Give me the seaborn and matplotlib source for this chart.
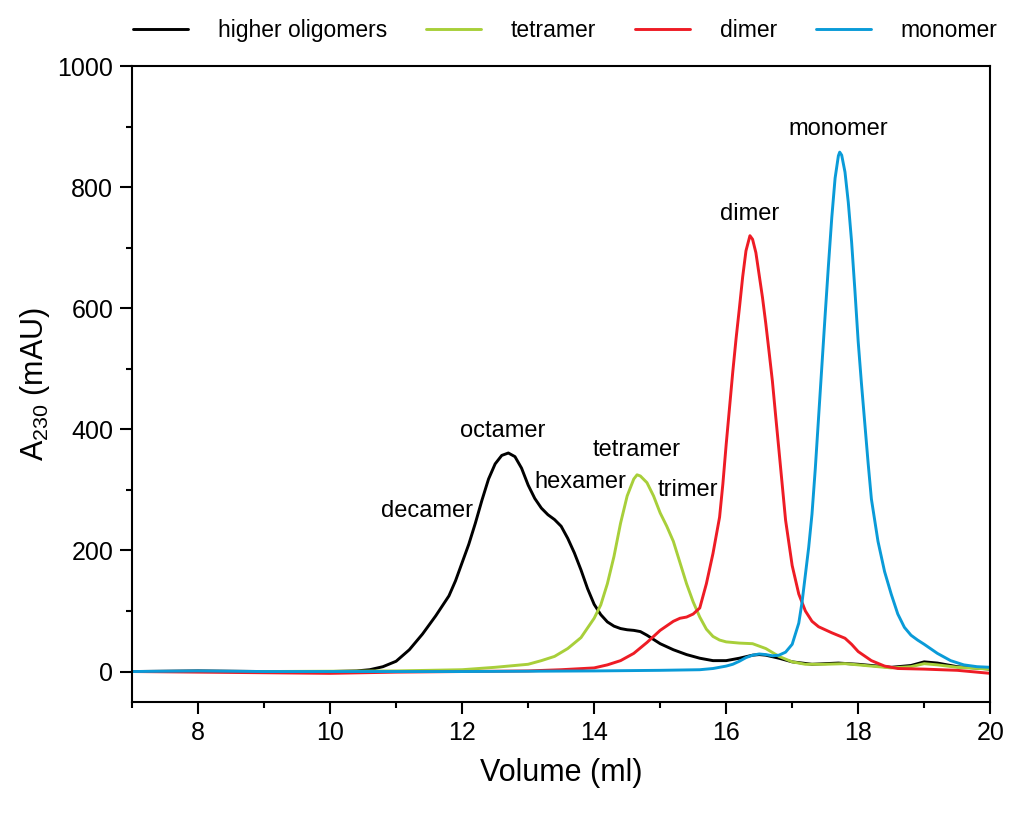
import numpy as np
import pandas as pd
import seaborn as sns
import matplotlib.pyplot as plt
from matplotlib.ticker import MultipleLocator

# Elution profiles (volume in ml, A230 in mAU)
oligo_x = [7.0, 8.0, 9.0, 10.0, 10.4, 10.6, 10.8, 11.0, 11.2, 11.4, 11.6, 11.8, 11.9, 12.0, 12.1,
           12.2, 12.3, 12.4, 12.5, 12.6, 12.7, 12.8, 12.9, 13.0, 13.1, 13.2, 13.3, 13.4, 13.5, 13.6,
           13.7, 13.8, 13.9, 14.0, 14.1, 14.2, 14.3, 14.4, 14.5, 14.6, 14.7, 14.8, 14.9, 15.0, 15.2,
           15.4, 15.6, 15.8, 16.0, 16.2, 16.4, 16.5, 16.6, 16.8, 17.0, 17.3, 17.7, 18.0, 18.5, 18.8,
           19.0, 19.2, 19.5, 20.0]
oligo_y = [0, 1, 0, 0, 1, 3, 8, 17, 36, 62, 92, 125, 150, 180, 210,
           245, 283, 318, 343, 357, 361, 355, 336, 308, 286, 270, 259, 251, 240, 220,
           196, 168, 137, 111, 94, 82, 75, 71, 69, 68, 66, 60, 53, 46, 36,
           28, 22, 18, 18, 22, 27, 28, 27, 22, 16, 12, 14, 12, 7, 10,
           16, 14, 8, 4]

tetra_x = [7.0, 9.0, 11.0, 12.0, 12.5, 13.0, 13.2, 13.4, 13.6, 13.8, 14.0, 14.1, 14.2, 14.3, 14.4,
           14.5, 14.6, 14.65, 14.7, 14.8, 14.9, 15.0, 15.1, 15.2, 15.3, 15.4, 15.5, 15.6, 15.7, 15.8,
           15.9, 16.0, 16.2, 16.4, 16.6, 16.8, 17.0, 17.2, 17.5, 17.8, 18.0, 18.5, 18.8, 19.0, 19.2,
           19.5, 20.0]
tetra_y = [0, 0, 1, 3, 7, 12, 18, 25, 38, 56, 88, 110, 145, 190, 245,
           290, 318, 325, 323, 312, 290, 262, 240, 215, 180, 145, 115, 90, 70, 58,
           52, 49, 47, 46, 38, 25, 16, 12, 12, 13, 11, 6, 8, 13, 11,
           7, 4]

dimer_x = [7.0, 9.0, 10.0, 11.0, 12.0, 13.0, 13.5, 14.0, 14.2, 14.4, 14.6, 14.8, 15.0, 15.2, 15.3,
           15.4, 15.5, 15.6, 15.7, 15.8, 15.9, 15.95, 16.0, 16.05, 16.1, 16.15, 16.2, 16.25, 16.3, 16.36,
           16.4, 16.45, 16.5, 16.55, 16.6, 16.65, 16.7, 16.75, 16.8, 16.9, 17.0, 17.1, 17.2, 17.3, 17.4,
           17.6, 17.8, 17.9, 18.0, 18.2, 18.4, 18.6, 19.0, 19.5, 20.0]
dimer_y = [0, -2, -3, -1, 0, 1, 3, 6, 11, 18, 30, 48, 68, 83, 88,
           90, 95, 105, 145, 195, 255, 310, 375, 435, 495, 550, 600, 652, 695, 720,
           714, 692, 655, 618, 575, 528, 480, 422, 365, 250, 175, 128, 100, 83, 74,
           64, 55, 45, 33, 18, 9, 5, 4, 2, -3]

mono_x = [7.0, 8.0, 9.0, 10.0, 12.0, 14.0, 15.0, 15.6, 15.8, 16.0, 16.1, 16.2, 16.3, 16.4, 16.5,
          16.6, 16.7, 16.8, 16.9, 17.0, 17.1, 17.15, 17.2, 17.25, 17.3, 17.35, 17.4, 17.45, 17.5, 17.55,
          17.6, 17.65, 17.7, 17.72, 17.75, 17.8, 17.85, 17.9, 17.95, 18.0, 18.05, 18.1, 18.15, 18.2, 18.3,
          18.4, 18.5, 18.6, 18.7, 18.8, 18.9, 19.0, 19.2, 19.4, 19.6, 19.8, 20.0]
mono_y = [0, 1, 0, 0, 0, 1, 2, 3, 5, 9, 12, 17, 23, 27, 29,
          28, 26, 27, 32, 45, 80, 115, 160, 205, 260, 335, 420, 505, 590, 672,
          750, 815, 852, 858, 853, 825, 775, 710, 630, 545, 475, 410, 345, 285, 215,
          165, 128, 95, 73, 60, 52, 45, 30, 18, 11, 8, 7]

series_names = ['higher oligomers', 'tetramer', 'dimer', 'monomer']
series_colors = ['#000000', '#a8cf3a', '#ee1c25', '#0a9bd8']

# peak labels and where they sit (data coords)
peak_labels = ['decamer', 'octamer', 'hexamer', 'tetramer', 'trimer', 'dimer', 'monomer']
peak_label_x = [11.47, 12.62, 13.79, 14.65, 15.42, 16.36, 17.70]
peak_label_y = [265, 397, 313, 366, 300, 756, 896]

frames = []
for name, xs, ys in zip(series_names,
                        [oligo_x, tetra_x, dimer_x, mono_x],
                        [oligo_y, tetra_y, dimer_y, mono_y]):
    frames.append(pd.DataFrame({'volume': xs, 'absorbance': ys, 'sample': name}))
df = pd.concat(frames, ignore_index=True)

sns.set_style('ticks')
plt.rcParams['font.family'] = ['Liberation Sans', 'DejaVu Sans']
plt.rcParams['mathtext.default'] = 'regular'
plt.rcParams['text.color'] = 'black'
plt.rcParams['axes.labelcolor'] = 'black'

fig = plt.figure(figsize=(10.24, 8.17), dpi=100)
ax = fig.add_axes([0.129, 0.141, 0.838, 0.778])

sns.lineplot(data=df, x='volume', y='absorbance', hue='sample', hue_order=series_names,
             palette=series_colors, linewidth=2.1, errorbar=None, ax=ax, legend=False)

for lbl, lx, ly in zip(peak_labels, peak_label_x, peak_label_y):
    ax.text(lx, ly, lbl, ha='center', va='center', fontsize=17, color='black')

ax.set_xlim(7, 20)
ax.set_ylim(-50, 1000)
ax.xaxis.set_major_locator(MultipleLocator(2))
ax.xaxis.set_minor_locator(MultipleLocator(1))
ax.yaxis.set_major_locator(MultipleLocator(200))
ax.yaxis.set_minor_locator(MultipleLocator(100))
ax.tick_params(which='major', direction='out', length=8.5, width=1.5, labelsize=18, pad=5, colors='black')
ax.tick_params(which='minor', direction='out', length=4.3, width=1.5, colors='black')
for sp in ax.spines.values():
    sp.set_linewidth(1.5)
    sp.set_color('black')

ax.set_xlabel('Volume (ml)', fontsize=22, labelpad=10)
ax.set_ylabel('$A_{230}$ (mAU)', fontsize=22, labelpad=4)

handles = [plt.Line2D([], [], color=c, linewidth=2.1) for c in series_colors]
fig.legend(handles, series_names, loc='center', bbox_to_anchor=(0.552, 0.963), ncol=4,
           frameon=False, fontsize=16.5, handlelength=2.4, handletextpad=1.3, columnspacing=1.7,
           labelcolor='black')

fig.savefig('out.png', dpi=100)
